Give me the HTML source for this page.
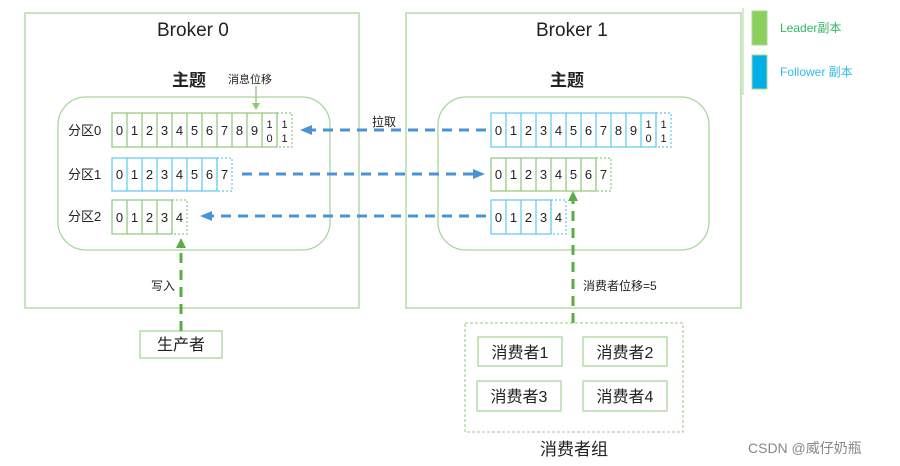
<!DOCTYPE html>
<html><head><meta charset="utf-8"><style>
body{margin:0;background:#fff;}
svg{display:block;font-family:"Liberation Sans","Noto Sans CJK SC",sans-serif;}
</style></head><body>
<svg width="900" height="466" viewBox="0 0 900 466">
<defs>
<g id="gcells">
</g>
</defs>
<g fill="none" stroke="#a8d79a" stroke-width="1.3">
<rect x="25" y="13" width="334" height="295"/>
<rect x="406" y="13" width="335" height="295"/>
<rect x="58" y="97" width="272" height="153" rx="28"/>
<rect x="438" y="97" width="271" height="153" rx="28"/>
<rect x="140" y="331" width="82" height="27"/>
<rect x="465" y="323" width="218" height="109" stroke-dasharray="3 2"/>
<rect x="478" y="337" width="84" height="29"/>
<rect x="583" y="337" width="84" height="29"/>
<rect x="477" y="381" width="84" height="30"/>
<rect x="583" y="381" width="84" height="30"/>
</g>
<line x1="743" y1="8" x2="743" y2="95" stroke="#a8d79a"/>
<rect x="752" y="11" width="15" height="34" fill="#8ad05e" stroke="#a8d79a"/>
<rect x="752" y="55" width="15" height="34" fill="#00aee8" stroke="#a8d79a"/>
<text x="780" y="32" font-size="12" fill="#33b866">Leader副本</text>
<text x="780" y="76" font-size="12" fill="#33b9ee">Follower 副本</text>
<text x="157" y="36" font-size="19" fill="#222">Broker 0</text>
<text x="536" y="36" font-size="19" fill="#222">Broker 1</text>
<text x="172" y="86" font-size="17" fill="#222" font-weight="bold">主题</text>
<text x="550" y="86" font-size="17" fill="#222" font-weight="bold">主题</text>
<text x="228" y="83" font-size="11" fill="#222">消息位移</text>
<line x1="256" y1="86" x2="256" y2="104" stroke="#8cc97a" stroke-width="1.3"/>
<polygon points="252,103 260,103 256,110" fill="#8cc97a"/>
<g font-size="13" fill="#222">
<text x="68" y="135">分区0</text><text x="68" y="179">分区1</text><text x="68" y="221">分区2</text>
</g>
<!-- left row0 green -->
<g fill="none" stroke="#8cc97a" stroke-width="1.2">
<rect x="112" y="113" width="165" height="34"/>
<path d="M127 113v34M142 113v34M157 113v34M172 113v34M187 113v34M202 113v34M217 113v34M232 113v34M247 113v34M262 113v34"/>
<rect x="277" y="113" width="15" height="34" stroke-dasharray="2 2"/>
<rect x="112" y="200" width="60" height="34"/>
<path d="M127 200v34M142 200v34M157 200v34"/>
<rect x="172" y="200" width="15" height="34" stroke-dasharray="2 2"/>
<rect x="491" y="158" width="105" height="33"/>
<path d="M506 158v33M521 158v33M536 158v33M551 158v33M566 158v33M581 158v33"/>
<rect x="596" y="158" width="15" height="33" stroke-dasharray="2 2"/>
</g>
<g fill="none" stroke="#5fc8f0" stroke-width="1.2">
<rect x="112" y="158" width="105" height="33"/>
<path d="M127 158v33M142 158v33M157 158v33M172 158v33M187 158v33M202 158v33"/>
<rect x="217" y="158" width="15" height="33" stroke-dasharray="2 2"/>
<rect x="491" y="113" width="165" height="34"/>
<path d="M506 113v34M521 113v34M536 113v34M551 113v34M566 113v34M581 113v34M596 113v34M611 113v34M626 113v34M641 113v34"/>
<rect x="656" y="113" width="15" height="34" stroke-dasharray="2 2"/>
<rect x="491" y="200" width="60" height="34"/>
<path d="M506 200v34M521 200v34M536 200v34"/>
<rect x="551" y="200" width="15" height="34" stroke-dasharray="2 2"/>
</g>
<g font-size="13" fill="#222" text-anchor="middle">
<text x="119.5" y="135">0</text><text x="134.5" y="135">1</text><text x="149.5" y="135">2</text><text x="164.5" y="135">3</text><text x="179.5" y="135">4</text><text x="194.5" y="135">5</text><text x="209.5" y="135">6</text><text x="224.5" y="135">7</text><text x="239.5" y="135">8</text><text x="254.5" y="135">9</text>
<text x="269.5" y="128" font-size="11">1</text><text x="269.5" y="142" font-size="11">0</text><text x="284.5" y="128" font-size="11">1</text><text x="284.5" y="142" font-size="11">1</text>
<text x="119.5" y="179">0</text><text x="134.5" y="179">1</text><text x="149.5" y="179">2</text><text x="164.5" y="179">3</text><text x="179.5" y="179">4</text><text x="194.5" y="179">5</text><text x="209.5" y="179">6</text><text x="224.5" y="179">7</text>
<text x="119.5" y="222">0</text><text x="134.5" y="222">1</text><text x="149.5" y="222">2</text><text x="164.5" y="222">3</text><text x="179.5" y="222">4</text>
<text x="498.5" y="135">0</text><text x="513.5" y="135">1</text><text x="528.5" y="135">2</text><text x="543.5" y="135">3</text><text x="558.5" y="135">4</text><text x="573.5" y="135">5</text><text x="588.5" y="135">6</text><text x="603.5" y="135">7</text><text x="618.5" y="135">8</text><text x="633.5" y="135">9</text>
<text x="648.5" y="128" font-size="11">1</text><text x="648.5" y="142" font-size="11">0</text><text x="663.5" y="128" font-size="11">1</text><text x="663.5" y="142" font-size="11">1</text>
<text x="498.5" y="179">0</text><text x="513.5" y="179">1</text><text x="528.5" y="179">2</text><text x="543.5" y="179">3</text><text x="558.5" y="179">4</text><text x="573.5" y="179">5</text><text x="588.5" y="179">6</text><text x="603.5" y="179">7</text>
<text x="498.5" y="222">0</text><text x="513.5" y="222">1</text><text x="528.5" y="222">2</text><text x="543.5" y="222">3</text><text x="558.5" y="222">4</text>
</g>
<g stroke="#4a94d6" stroke-width="3" stroke-dasharray="10 7" fill="none">
<line x1="486" y1="130" x2="312" y2="130"/>
<line x1="242" y1="174" x2="474" y2="174"/>
<line x1="486" y1="216" x2="212" y2="216"/>
</g>
<g fill="#4a94d6">
<polygon points="300,130 312,125 312,135"/>
<polygon points="485,174 473,169 473,179"/>
<polygon points="200,216 212,211 212,221"/>
</g>
<text x="372" y="126" font-size="12" fill="#222">拉取</text>
<g stroke="#5aac44" stroke-width="3" stroke-dasharray="10 7" fill="none">
<line x1="181" y1="331" x2="181" y2="248"/>
<line x1="573" y1="323" x2="573" y2="201"/>
</g>
<polygon points="181,238 176,248 186,248" fill="#5aac44"/>
<polygon points="573,191 568,201 578,201" fill="#5aac44"/>
<text x="151" y="290" font-size="12" fill="#222">写入</text>
<text x="583" y="290" font-size="12" fill="#222">消费者位移=5</text>
<g font-size="16" fill="#222" text-anchor="middle">
<text x="181" y="350">生产者</text>
<text x="520" y="358">消费者1</text><text x="625" y="358">消费者2</text>
<text x="519" y="402">消费者3</text><text x="625" y="402">消费者4</text>
<text x="574" y="455" font-size="17">消费者组</text>
</g>
<text x="748" y="453" font-size="14" fill="#888">CSDN @威仔奶瓶</text>
</svg>
</body></html>
